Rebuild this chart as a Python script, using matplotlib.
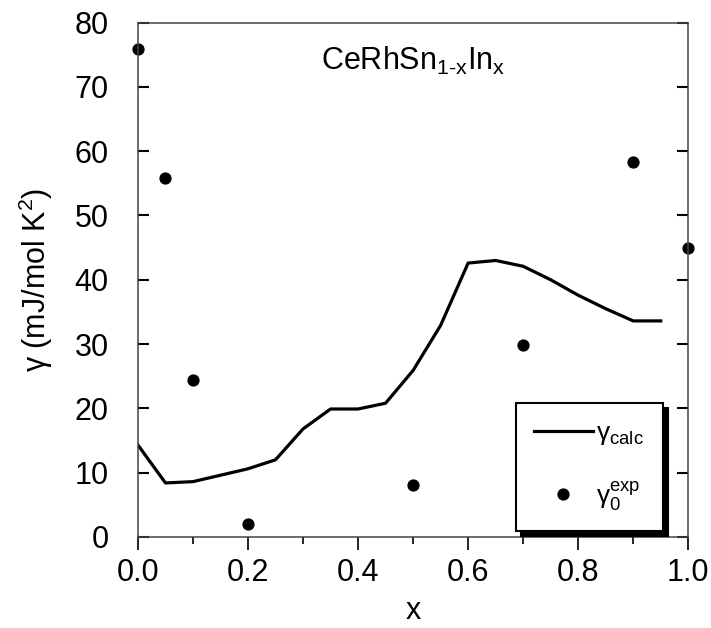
import matplotlib
matplotlib.use('Agg')
import matplotlib.pyplot as plt
from matplotlib.ticker import MultipleLocator, FormatStrFormatter

plt.rcParams['font.family'] = ['Liberation Sans', 'DejaVu Sans']
plt.rcParams['mathtext.fontset'] = 'custom'
plt.rcParams['mathtext.rm'] = 'Liberation Sans'
plt.rcParams['mathtext.it'] = 'Liberation Sans'
plt.rcParams['mathtext.bf'] = 'Liberation Sans:bold'

# calculated gamma (line)
x_calc = [0.0, 0.05, 0.1, 0.2, 0.25, 0.3, 0.35, 0.4, 0.45, 0.5,
          0.55, 0.6, 0.65, 0.7, 0.75, 0.8, 0.85, 0.9, 0.95]
g_calc = [14.3, 8.4, 8.6, 10.6, 12.0, 16.8, 19.9, 19.9, 20.8, 25.9,
          32.9, 42.6, 43.0, 42.1, 40.0, 37.6, 35.5, 33.6, 33.6]

# experimental gamma_0 (dots)
x_exp = [0.0, 0.05, 0.1, 0.2, 0.5, 0.7, 0.9, 1.0]
g_exp = [75.9, 55.9, 24.4, 2.0, 8.1, 29.9, 58.3, 44.9]

fig = plt.figure(figsize=(7.11, 6.28), dpi=100)
ax = fig.add_axes([0.194, 0.145, 0.774, 0.819])

ax.plot(x_calc, g_calc, color='black', lw=2.3, solid_joinstyle='round',
        label=r'$\mathrm{γ}_{\mathrm{calc}}$')
ax.plot(x_exp, g_exp, 'o', color='black', ms=7.8, clip_on=False,
        label=r'$\mathrm{γ}_{\mathrm{0}}^{\mathrm{exp}}$')

ax.set_xlim(0, 1.0)
ax.set_ylim(0, 80)
ax.xaxis.set_major_locator(MultipleLocator(0.2))
ax.xaxis.set_minor_locator(MultipleLocator(0.1))
ax.yaxis.set_major_locator(MultipleLocator(10))
ax.xaxis.set_major_formatter(FormatStrFormatter('%.1f'))

ax.tick_params(axis='x', which='major', direction='out', length=9, width=1.2,
               labelsize=22, pad=6)
ax.tick_params(axis='x', which='minor', direction='out', length=5, width=1.2)
ax.tick_params(axis='y', which='major', direction='in', length=8, width=1.5,
               labelsize=22, right=True, pad=21)

for s in ax.spines.values():
    s.set_color('#444444')
    s.set_linewidth(1.1)

ax.set_xlabel('x', fontsize=22, labelpad=6)
ax.set_ylabel(r'γ (mJ/mol K$^{2}$)', fontsize=22, labelpad=14)

ax.text(0.5, 0.925, r'CeRhSn$_{\mathrm{1\text{-}x}}$In$_{\mathrm{x}}$',
        transform=ax.transAxes, ha='center', va='center', fontsize=22)

leg = ax.legend(loc='upper left', bbox_to_anchor=(0.687, 0.2605),
                borderaxespad=0, fancybox=False, edgecolor='black',
                shadow={'color': 'black', 'alpha': 1, 'ox': 3.5, 'oy': -3.5},
                fontsize=19, handlelength=2.2, handletextpad=0.15,
                labelspacing=1.2, borderpad=0.7, framealpha=1)
leg.get_frame().set_linewidth(1.5)

fig.savefig('out.png', dpi=100)
